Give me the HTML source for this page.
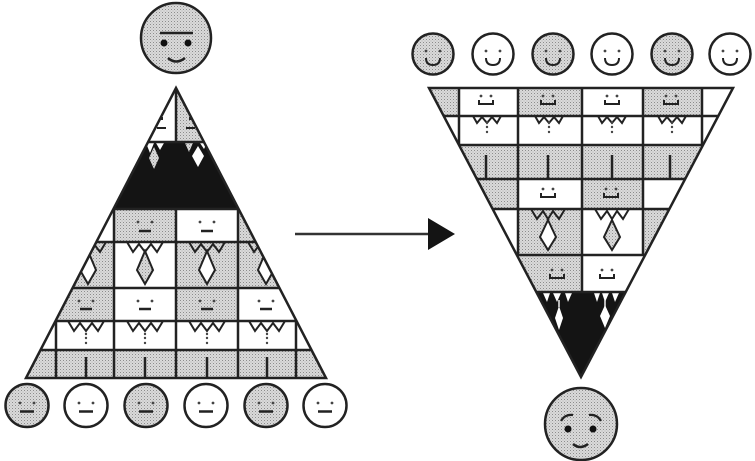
<!DOCTYPE html>
<html><head><meta charset="utf-8"><style>html,body{margin:0;padding:0;background:#fff}svg{display:block}</style></head>
<body>
<svg width="755" height="461" viewBox="0 0 755 461" xmlns="http://www.w3.org/2000/svg">
<defs>
<pattern id="g" width="3" height="3" patternUnits="userSpaceOnUse"><rect width="3" height="3" fill="#dadada"/><rect width="1" height="1" fill="#8c8c8c"/><rect x="1.5" y="1.5" width="1" height="1" fill="#b0b0b0"/></pattern>
<clipPath id="cl"><polygon points="176,88 326,378 26,378"/></clipPath>
<clipPath id="cr"><polygon points="429,88 733,88 581,377"/></clipPath>
</defs>

<!-- ===== LEFT PYRAMID ===== -->
<g clip-path="url(#cl)">
  <rect x="100" y="88" width="76" height="54" fill="#fff"/>
  <rect x="176" y="88" width="90" height="54" fill="url(#g)"/>
  <rect x="0" y="142" width="360" height="67" fill="#141414"/>
  <!-- row1 -->
  <rect x="0" y="209" width="114" height="33" fill="#fff"/>
  <rect x="114" y="209" width="62" height="33" fill="url(#g)"/>
  <rect x="176" y="209" width="62" height="33" fill="#fff"/>
  <rect x="238" y="209" width="120" height="33" fill="url(#g)"/>
  <!-- row2 -->
  <rect x="0" y="242" width="114" height="46" fill="url(#g)"/>
  <rect x="114" y="242" width="62" height="46" fill="#fff"/>
  <rect x="176" y="242" width="62" height="46" fill="url(#g)"/>
  <rect x="238" y="242" width="120" height="46" fill="url(#g)"/>
  <!-- row3 -->
  <rect x="0" y="288" width="114" height="33" fill="url(#g)"/>
  <rect x="114" y="288" width="62" height="33" fill="#fff"/>
  <rect x="176" y="288" width="62" height="33" fill="url(#g)"/>
  <rect x="238" y="288" width="120" height="33" fill="#fff"/>
  <!-- row4 -->
  <rect x="0" y="321" width="360" height="29" fill="#fff"/>
  <!-- row5 -->
  <rect x="0" y="350" width="360" height="28" fill="url(#g)"/>

  <!-- black band details -->
  <g stroke="none">
    <polygon points="146,143 154,143 150,153" fill="#fff"/>
    <polygon points="156,143 164,143 160,150" fill="#fff"/>
    <polygon points="154,147 159,158 154,169 149,158" fill="url(#g)"/>
    <polygon points="185,143 193,143 189,152" fill="url(#g)"/>
    <polygon points="198,146 204,156 198,167 192,156" fill="#fff"/>
    <polygon points="200,143 207,143 204,149" fill="#fff"/>
  </g>

  <g fill="none" stroke="#222" stroke-width="2">
    <!-- top band marks -->
    <path d="M157,128 H166 M162,117 v3"/>
    <path d="M186,128 H195 M190,117 v3"/>
    <!-- grid -->
    <path d="M0,142 H360 M0,209 H360 M0,242 H360 M0,288 H360 M0,321 H360 M0,350 H360" stroke-width="2.5"/>
    <path d="M176,88 V142 M114,209 V378 M176,209 V378 M238,209 V378 M56,321 V378 M296,321 V378" stroke-width="2.5"/>

    <!-- row2 ties -->
    <g transform="translate(145,242)"><polyline points="-18,0 -12,10 -6,2 0,10 6,2 12,10 18,0"/><polygon points="0,9 8,28 0,42 -8,28" fill="url(#g)"/></g>
    <g transform="translate(207,242)"><polyline points="-18,0 -12,10 -6,2 0,10 6,2 12,10 18,0"/><polygon points="0,9 8,28 0,42 -8,28" fill="#fff"/></g>
    <g transform="translate(88,242)"><polyline points="-18,0 -12,10 -6,2 0,10 6,2 12,10 18,0"/><polygon points="0,9 8,28 0,42 -8,28" fill="#fff"/></g>
    <g transform="translate(266,242)"><polyline points="-18,0 -12,10 -6,2 0,10 6,2 12,10 18,0"/><polygon points="0,9 8,28 0,42 -8,28" fill="#fff"/></g>

    <!-- row4 collars -->
    <g transform="translate(86,321)"><polyline points="-18,0 -12,10 -6,2 0,10 6,2 12,10 18,0"/></g>
    <g transform="translate(145,321)"><polyline points="-18,0 -12,10 -6,2 0,10 6,2 12,10 18,0"/></g>
    <g transform="translate(207,321)"><polyline points="-18,0 -12,10 -6,2 0,10 6,2 12,10 18,0"/></g>
    <g transform="translate(267,321)"><polyline points="-18,0 -12,10 -6,2 0,10 6,2 12,10 18,0"/></g>

    <!-- row5 legs -->
    <path d="M86,357 V378 M145,357 V378 M207,357 V378 M267,357 V378" stroke-width="2.5"/>

    <!-- faces row1 & row3 -->
    <path d="M139,231 H151 M201,231 H213 M80,309 H92 M139,309 H151 M201,309 H213 M260,309 H272" stroke-width="2.5"/>
  </g>
  <g fill="#444">
    <circle cx="138" cy="222" r="1.4"/><circle cx="152" cy="222" r="1.4"/>
    <circle cx="200" cy="222" r="1.4"/><circle cx="214" cy="222" r="1.4"/>
    <circle cx="79" cy="301" r="1.4"/><circle cx="93" cy="301" r="1.4"/>
    <circle cx="138" cy="301" r="1.4"/><circle cx="152" cy="301" r="1.4"/>
    <circle cx="200" cy="301" r="1.4"/><circle cx="214" cy="301" r="1.4"/>
    <circle cx="259" cy="301" r="1.4"/><circle cx="273" cy="301" r="1.4"/>
    <circle cx="86" cy="334" r="1.2"/><circle cx="86" cy="338" r="1.2"/><circle cx="86" cy="343" r="1.2"/>
    <circle cx="145" cy="334" r="1.2"/><circle cx="145" cy="338" r="1.2"/><circle cx="145" cy="343" r="1.2"/>
    <circle cx="207" cy="334" r="1.2"/><circle cx="207" cy="338" r="1.2"/><circle cx="207" cy="343" r="1.2"/>
    <circle cx="267" cy="334" r="1.2"/><circle cx="267" cy="338" r="1.2"/><circle cx="267" cy="343" r="1.2"/>
  </g>
</g>
<polygon points="176,88 326,378 26,378" fill="none" stroke="#222" stroke-width="2.5" stroke-linejoin="miter"/>

<!-- ===== RIGHT PYRAMID ===== -->
<g clip-path="url(#cr)">
  <!-- row1 -->
  <rect x="400" y="88" width="59" height="28" fill="url(#g)"/>
  <rect x="459" y="88" width="59" height="28" fill="#fff"/>
  <rect x="518" y="88" width="64" height="28" fill="url(#g)"/>
  <rect x="582" y="88" width="61" height="28" fill="#fff"/>
  <rect x="643" y="88" width="59" height="28" fill="url(#g)"/>
  <rect x="702" y="88" width="60" height="28" fill="#fff"/>
  <!-- row2 -->
  <rect x="400" y="116" width="360" height="29" fill="#fff"/>
  <!-- row3 -->
  <rect x="400" y="145" width="360" height="34" fill="url(#g)"/>
  <!-- row4 -->
  <rect x="400" y="179" width="118" height="30" fill="url(#g)"/>
  <rect x="518" y="179" width="64" height="30" fill="#fff"/>
  <rect x="582" y="179" width="61" height="30" fill="url(#g)"/>
  <rect x="643" y="179" width="120" height="30" fill="#fff"/>
  <!-- row5 -->
  <rect x="400" y="209" width="118" height="46" fill="#fff"/>
  <rect x="518" y="209" width="64" height="46" fill="url(#g)"/>
  <rect x="582" y="209" width="61" height="46" fill="#fff"/>
  <rect x="643" y="209" width="120" height="46" fill="url(#g)"/>
  <!-- row6 -->
  <rect x="400" y="255" width="182" height="37" fill="url(#g)"/>
  <rect x="582" y="255" width="180" height="37" fill="#fff"/>
  <!-- black -->
  <rect x="400" y="292" width="360" height="90" fill="#141414"/>
  <g stroke="none" fill="#fff">
    <polygon points="543,293 550,293 547,302"/>
    <polygon points="553,293 561,293 557,302"/>
    <polygon points="565,293 572,293 568,302"/>
    <polygon points="594,293 600,293 597,302"/>
    <polygon points="602,293 609,293 605,302"/>
    <polygon points="612,293 619,293 615,302"/>
    <polygon points="559,306 563,318 559,330 555,318"/>
    <polygon points="605,305 610,316 605,328 600,316"/>
    <rect x="558.3" y="300" width="1.4" height="7"/>
    <rect x="604.3" y="300" width="1.4" height="7"/>
  </g>

  <g fill="none" stroke="#222" stroke-width="2">
    <path d="M400,116 H760 M400,145 H760 M400,179 H760 M400,209 H760 M400,255 H760 M400,292 H760" stroke-width="2.5"/>
    <path d="M459,88 V145 M702,88 V145 M518,88 V255 M582,88 V292 M643,88 V255" stroke-width="2.5"/>
    <!-- row2 collars -->
    <g transform="translate(487,116)"><polyline points="-14,0 -10,7 -5,1 0,7 5,1 10,7 14,0"/></g>
    <g transform="translate(549,116)"><polyline points="-14,0 -10,7 -5,1 0,7 5,1 10,7 14,0"/></g>
    <g transform="translate(612,116)"><polyline points="-14,0 -10,7 -5,1 0,7 5,1 10,7 14,0"/></g>
    <g transform="translate(672,116)"><polyline points="-14,0 -10,7 -5,1 0,7 5,1 10,7 14,0"/></g>
    <!-- row3 legs -->
    <path d="M486,155 V179 M548,155 V179 M612,155 V179 M670,155 V179" stroke-width="2.5"/>
    <!-- row5 ties -->
    <g transform="translate(548,209)"><polyline points="-17,0 -11,10 -5,2 0,10 5,2 11,10 17,0"/><polygon points="0,11 8,28 0,41 -8,28" fill="#fff"/></g>
    <g transform="translate(612,209)"><polyline points="-17,0 -11,10 -5,2 0,10 5,2 11,10 17,0"/><polygon points="0,11 8,28 0,41 -8,28" fill="url(#g)"/></g>
    <!-- smiles -->
    <path d="M479,100 V104 H493 V100 M541,100 V104 H555 V100 M605,100 V104 H619 V100 M664,100 V104 H678 V100"/>
    <path d="M541,193 V197 H555 V193 M604,193 V197 H618 V193"/>
    <path d="M550,274 V278 H564 V274 M600,274 V278 H614 V274"/>
  </g>
  <g fill="#444">
    <circle cx="481" cy="96" r="1.4"/><circle cx="491" cy="96" r="1.4"/>
    <circle cx="543" cy="96" r="1.4"/><circle cx="553" cy="96" r="1.4"/>
    <circle cx="607" cy="96" r="1.4"/><circle cx="617" cy="96" r="1.4"/>
    <circle cx="666" cy="96" r="1.4"/><circle cx="676" cy="96" r="1.4"/>
    <circle cx="543" cy="189" r="1.4"/><circle cx="553" cy="189" r="1.4"/>
    <circle cx="606" cy="189" r="1.4"/><circle cx="616" cy="189" r="1.4"/>
    <circle cx="552" cy="270" r="1.4"/><circle cx="562" cy="270" r="1.4"/>
    <circle cx="602" cy="270" r="1.4"/><circle cx="612" cy="270" r="1.4"/>
    <circle cx="487" cy="122" r="1.2"/><circle cx="487" cy="127" r="1.2"/><circle cx="487" cy="132" r="1.2"/>
    <circle cx="549" cy="122" r="1.2"/><circle cx="549" cy="127" r="1.2"/><circle cx="549" cy="132" r="1.2"/>
    <circle cx="612" cy="122" r="1.2"/><circle cx="612" cy="127" r="1.2"/><circle cx="612" cy="132" r="1.2"/>
    <circle cx="672" cy="122" r="1.2"/><circle cx="672" cy="127" r="1.2"/><circle cx="672" cy="132" r="1.2"/>
  </g>
</g>
<polygon points="429,88 733,88 581,377" fill="none" stroke="#222" stroke-width="2.5"/>

<!-- ===== ARROW ===== -->
<line x1="295" y1="234" x2="432" y2="234" stroke="#333" stroke-width="2.5"/>
<polygon points="428,218 455,234 428,250" fill="#141414"/>

<!-- ===== TOP-LEFT BOSS HEAD ===== -->
<circle cx="176" cy="38" r="35" fill="url(#g)" stroke="#222" stroke-width="2.5"/>
<path d="M160,33 H193" stroke="#222" stroke-width="2.5"/>
<circle cx="164" cy="43" r="3.5" fill="#111"/><circle cx="188" cy="43" r="3.5" fill="#111"/>
<path d="M168,58 Q176,65 185,58" fill="none" stroke="#222" stroke-width="2.5"/>

<!-- ===== BOTTOM-RIGHT BOSS HEAD ===== -->
<circle cx="581" cy="424" r="36" fill="url(#g)" stroke="#222" stroke-width="2.5"/>
<path d="M561,421 Q565,414 573,415 M589,415 Q597,414 601,421" fill="none" stroke="#222" stroke-width="2.2"/>
<circle cx="568" cy="429" r="3.5" fill="#111"/><circle cx="593" cy="429" r="3.5" fill="#111"/>
<path d="M573,444 Q580,450 588,444" fill="none" stroke="#222" stroke-width="2.5"/>

<!-- ===== BOTTOM-LEFT HEADS ===== -->
<g stroke="#222" stroke-width="2.5">
  <circle cx="27" cy="405.5" r="21.5" fill="url(#g)"/>
  <circle cx="86" cy="405.5" r="21.5" fill="#fff"/>
  <circle cx="146" cy="405.5" r="21.5" fill="url(#g)"/>
  <circle cx="206" cy="405.5" r="21.5" fill="#fff"/>
  <circle cx="266" cy="405.5" r="21.5" fill="url(#g)"/>
  <circle cx="325" cy="405.5" r="21.5" fill="#fff"/>
  <path d="M20,411.5 H34 M79,411.5 H93 M139,411.5 H153 M199,411.5 H213 M259,411.5 H273 M318,411.5 H332"/>
</g>
<g fill="#444">
  <circle cx="20" cy="403" r="1.4"/><circle cx="34" cy="403" r="1.4"/>
  <circle cx="79" cy="403" r="1.4"/><circle cx="93" cy="403" r="1.4"/>
  <circle cx="139" cy="403" r="1.4"/><circle cx="153" cy="403" r="1.4"/>
  <circle cx="199" cy="403" r="1.4"/><circle cx="213" cy="403" r="1.4"/>
  <circle cx="259" cy="403" r="1.4"/><circle cx="273" cy="403" r="1.4"/>
  <circle cx="318" cy="403" r="1.4"/><circle cx="332" cy="403" r="1.4"/>
</g>

<!-- ===== TOP-RIGHT HEADS ===== -->
<g stroke="#222" stroke-width="2.5">
  <circle cx="433" cy="54" r="20.5" fill="url(#g)"/>
  <circle cx="493" cy="54" r="20.5" fill="#fff"/>
  <circle cx="553" cy="54" r="20.5" fill="url(#g)"/>
  <circle cx="612" cy="54" r="20.5" fill="#fff"/>
  <circle cx="672" cy="54" r="20.5" fill="url(#g)"/>
  <circle cx="730" cy="54" r="20.5" fill="#fff"/>
</g>
<g fill="none" stroke="#222" stroke-width="2">
  <path d="M426,58 Q426,65 433,65 Q440,65 440,58"/>
  <path d="M486,58 Q486,65 493,65 Q500,65 500,58"/>
  <path d="M546,58 Q546,65 553,65 Q560,65 560,58"/>
  <path d="M605,58 Q605,65 612,65 Q619,65 619,58"/>
  <path d="M665,58 Q665,65 672,65 Q679,65 679,58"/>
  <path d="M723,58 Q723,65 730,65 Q737,65 737,58"/>
</g>
<g fill="#444">
  <circle cx="426" cy="51" r="1.4"/><circle cx="440" cy="51" r="1.4"/>
  <circle cx="486" cy="51" r="1.4"/><circle cx="500" cy="51" r="1.4"/>
  <circle cx="546" cy="51" r="1.4"/><circle cx="560" cy="51" r="1.4"/>
  <circle cx="605" cy="51" r="1.4"/><circle cx="619" cy="51" r="1.4"/>
  <circle cx="665" cy="51" r="1.4"/><circle cx="679" cy="51" r="1.4"/>
  <circle cx="723" cy="51" r="1.4"/><circle cx="737" cy="51" r="1.4"/>
</g>
</svg>
</body></html>
